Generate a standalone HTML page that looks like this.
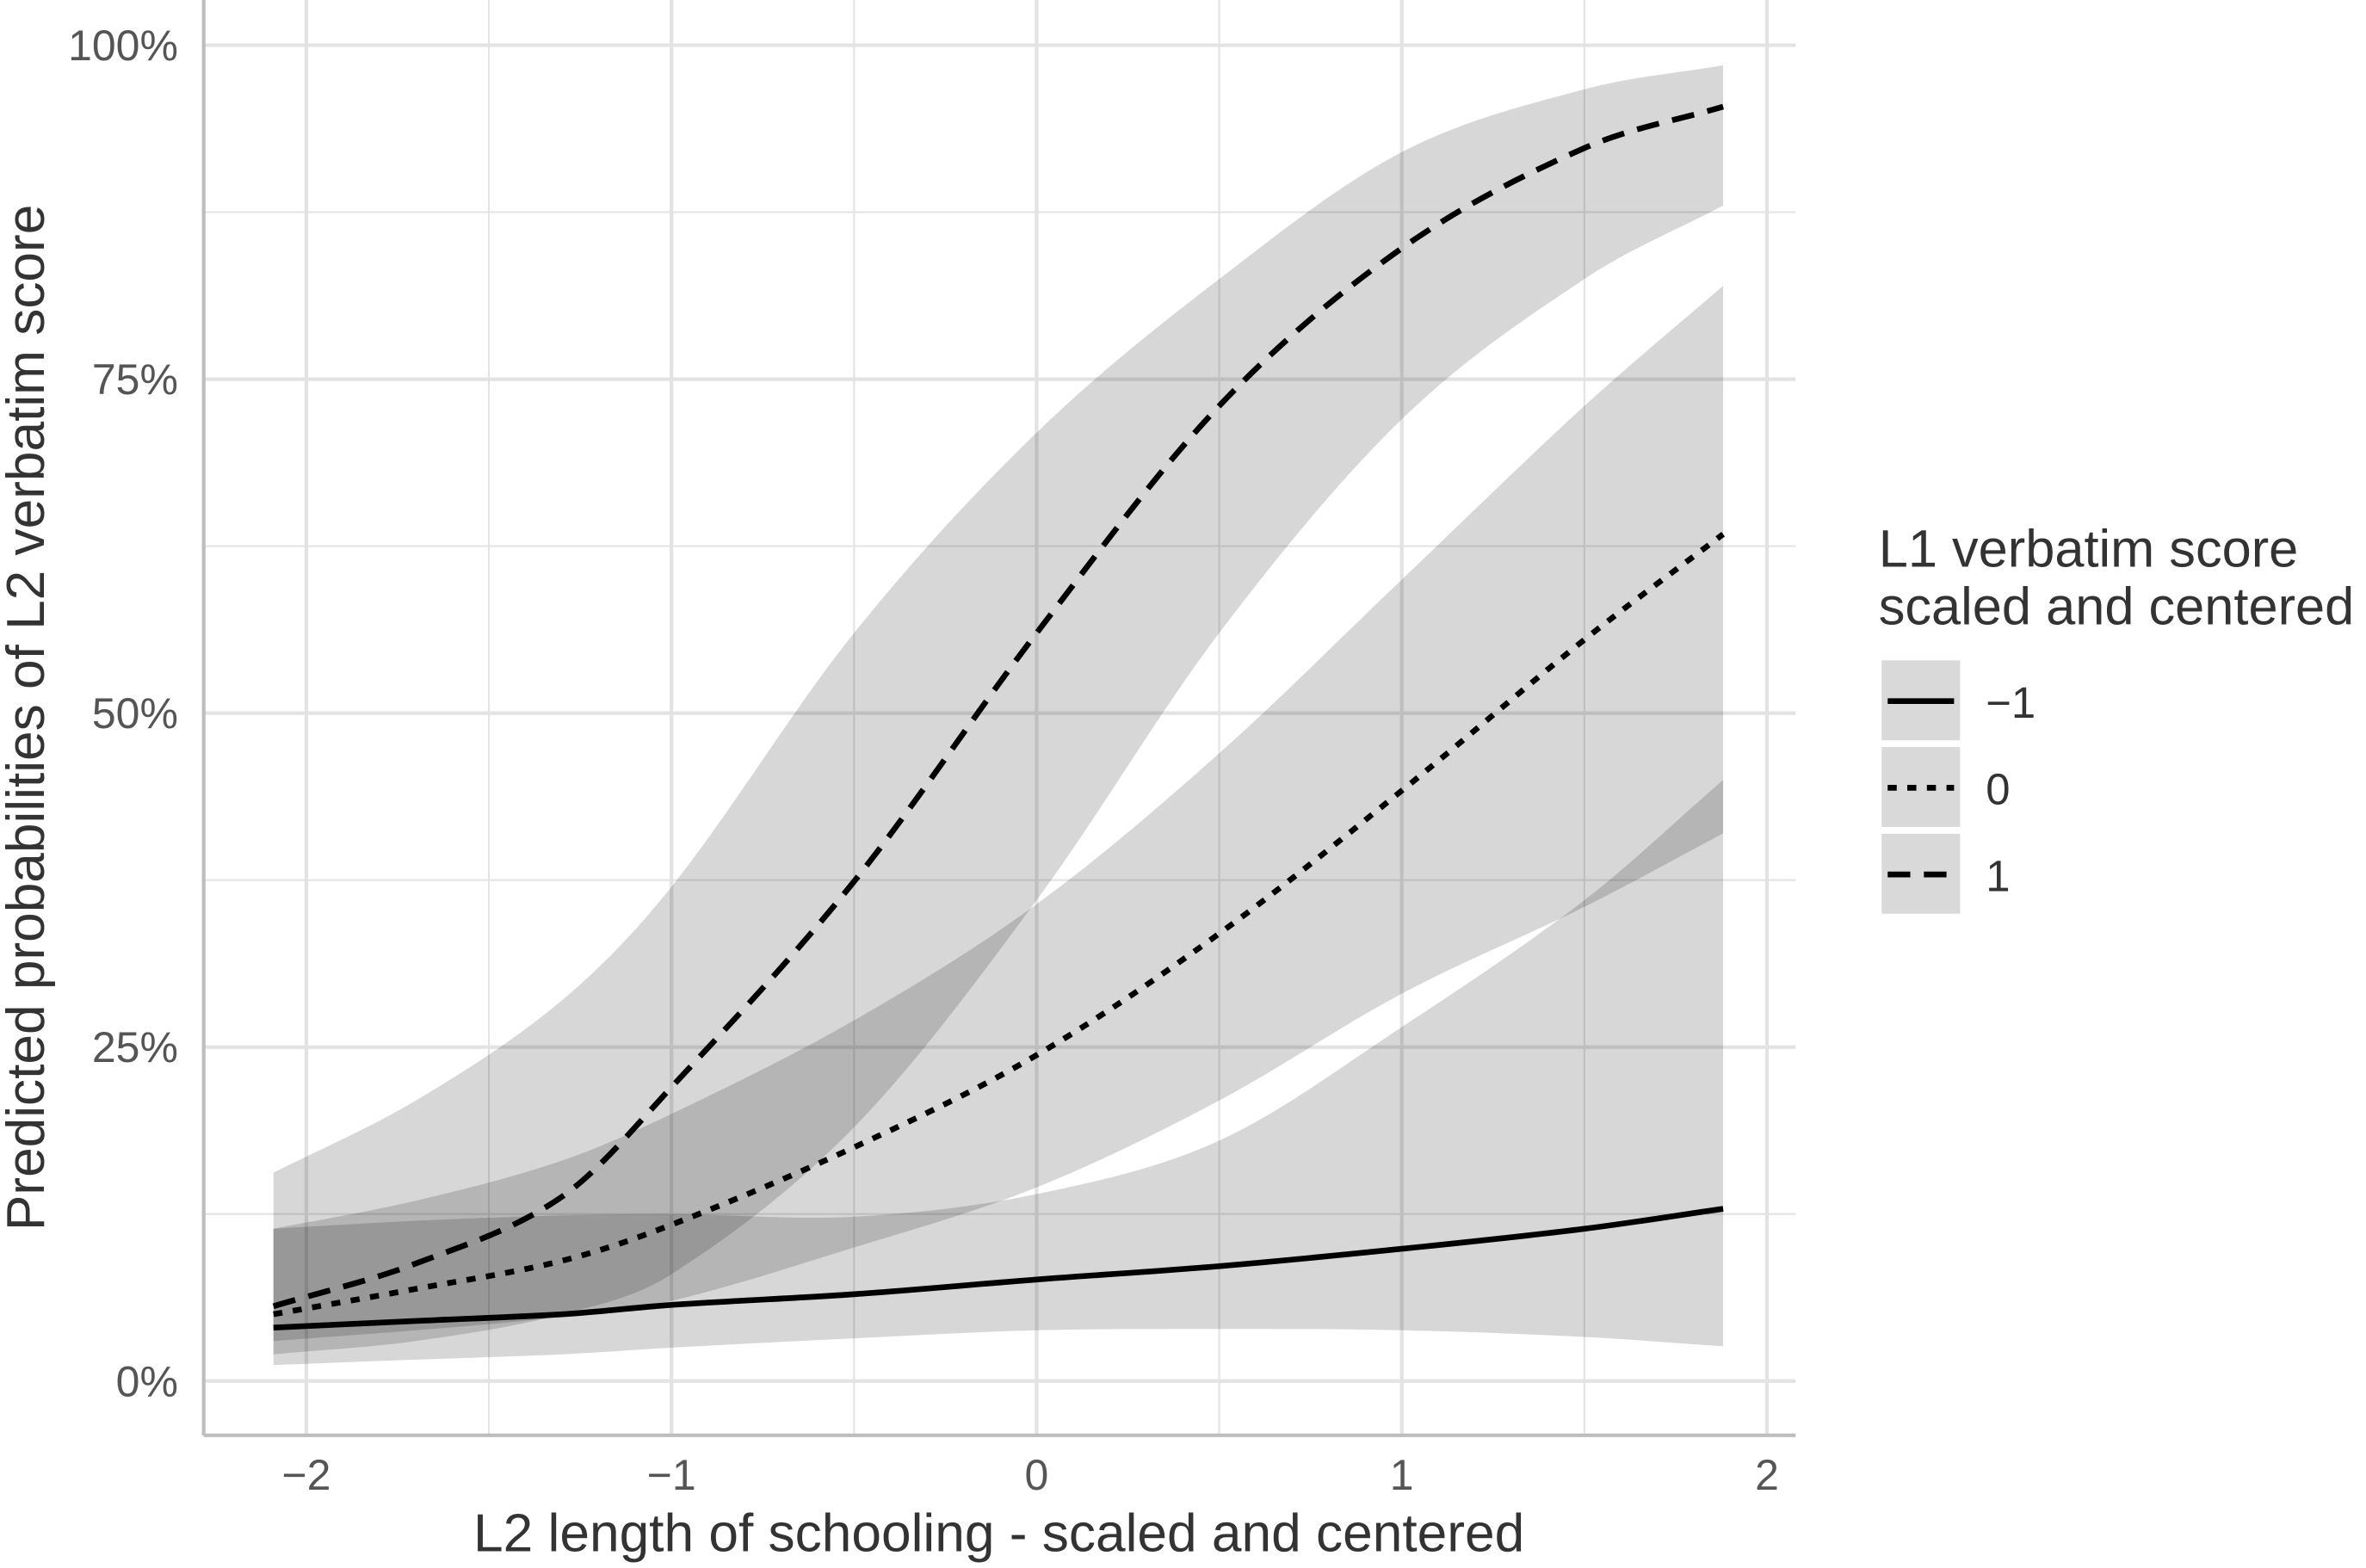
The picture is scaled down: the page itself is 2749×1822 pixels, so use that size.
<!DOCTYPE html>
<html><head><meta charset="utf-8"><style>
html,body{margin:0;padding:0;background:#fff;}
svg{display:block;font-family:"Liberation Sans",sans-serif;}
</style></head><body>
<svg id="chart" width="2749" height="1822" viewBox="0 0 1568 1040" preserveAspectRatio="none" xmlns="http://www.w3.org/2000/svg">
<g id="grid"></g>
<g id="ribbons"></g>
<g id="lines"></g>
<g id="axes"></g>
<text x="662" y="1029" font-size="35.5" fill="#333" text-anchor="middle">L2 length of schooling - scaled and centered</text>
<text transform="translate(29,476) rotate(-90)" font-size="35.5" fill="#333" text-anchor="middle">Predicted probabilities of L2 verbatim score</text>
<g>
<text x="1245" y="376" font-size="35" fill="#333">L1 verbatim score</text>
<text x="1245" y="414" font-size="35" fill="#333">scaled and centered</text>
<g id="legendKeys"></g>
</g>
</svg>
<script>
const xs = [-2.09, -1.7, -1.3, -1, -0.5, 0, 0.5, 1, 1.5, 1.88];
const fitM1 = [4.0, 4.5, 5.0, 5.7, 6.5, 7.6, 8.6, 9.9, 11.4, 12.9];
const lowM1 = [1.2, 1.6, 2.0, 2.5, 3.2, 3.8, 3.9, 3.8, 3.3, 2.6];
const upM1 = [11.4, 12.0, 12.4, 12.5, 12.3, 14.0, 18.0, 26.5, 36, 45];
const fit0 = [5.0, 6.9, 9.0, 11.7, 17.5, 24.4, 33.5, 44.2, 55.5, 63.4];
const low0 = [3.0, 3.8, 4.8, 6.0, 10.0, 14.5, 21, 29, 35.5, 41];
const up0 = [11.4, 13.5, 16.5, 20, 27, 35.7, 47, 60, 73, 82];
const fit1 = [5.6, 8.8, 13.8, 22.0, 37.4, 56, 73, 84.8, 92.3, 95.4];
const low1 = [2.0, 3.0, 5.0, 8.0, 19, 36, 56, 72, 82.5, 88];
const up1 = [15.6, 21.0, 28.5, 37, 56, 71, 82.5, 92, 96.7, 98.5];
const xTicks = [-2, -1, 0, 1, 2];
const xTickLabels = ["\u22122", "\u22121", "0", "1", "2"];
const yTicks = [0, 25, 50, 75, 100];
const yTickLabels = ["0%", "25%", "50%", "75%", "100%"];
const legendLabels = ["\u22121", "0", "1"];

const X = v => 687 + 242 * v;
const Y = p => 916 - 8.86 * p;
const NS = "http://www.w3.org/2000/svg";
function mk(tag, attrs, parent){const e=document.createElementNS(NS,tag);for(const k in attrs)e.setAttribute(k,attrs[k]);parent.appendChild(e);return e;}
function smooth(pts, start){
  let d = start ? 'M'+pts[0][0]+','+pts[0][1] : 'L'+pts[0][0]+','+pts[0][1];
  for(let i=0;i<pts.length-1;i++){
    const p0=pts[Math.max(0,i-1)],p1=pts[i],p2=pts[i+1],p3=pts[Math.min(pts.length-1,i+2)];
    const h=p2[0]-p1[0];
    const s1=(p2[1]-p0[1])/((p2[0]-p0[0])||1), s2=(p3[1]-p1[1])/((p3[0]-p1[0])||1);
    const c1=[p1[0]+h/3,p1[1]+s1*h/3];
    const c2=[p2[0]-h/3,p2[1]-s2*h/3];
    d+='C'+c1[0]+','+c1[1]+' '+c2[0]+','+c2[1]+' '+p2[0]+','+p2[1];
  }
  return d;
}

const grid = document.getElementById('grid');
const L=135,R=1190,T=0,B=952;
for (let v=-2; v<=2.01; v+=0.5) {
  const major = Math.abs(v - Math.round(v)) < 1e-6;
  const l = mk('line',{x1:X(v),x2:X(v),y1:T,y2:B,stroke:'#e3e3e3','stroke-width':major?2.4:1.2},grid);
  
  
}
for (let p=0; p<=100.1; p+=12.5) {
  const major = (p % 25) === 0;
  const l = mk('line',{x1:L,x2:R,y1:Y(p),y2:Y(p),stroke:'#e3e3e3','stroke-width':major?2.4:1.2},grid);
  
  
}

const rib = document.getElementById('ribbons');
const bands = [[lowM1,upM1,'ribbon-minus1'],[low0,up0,'ribbon-0'],[low1,up1,'ribbon-1']];
bands.forEach(b=>{
  const upPts = xs.map((x,i)=>[X(x),Y(b[1][i])]);
  const loPts = xs.map((x,i)=>[X(x),Y(b[0][i])]).reverse();
  const d = smooth(upPts,true)+smooth(loPts,false)+'Z';
  const p = mk('path',{d:d,fill:'#000','fill-opacity':0.155},rib);
  
  
});

const lines = document.getElementById('lines');
const series = [[fitM1,'none','line-minus1'],[fit0,'6,7','line-0'],[fit1,'15,9','line-1']];
series.forEach(s=>{
  const pts = xs.map((x,i)=>[X(x),Y(s[0][i])]);
  const pl = mk('path',{d:smooth(pts,true),fill:'none',stroke:'#000','stroke-width':3.8,'stroke-dasharray':s[1]},lines);
  
  
});

const axes = document.getElementById('axes');
mk('line',{x1:L,x2:L,y1:0,y2:B,stroke:'#bdbdbd','stroke-width':2.4},axes);
mk('line',{x1:L,x2:R,y1:B,y2:B,stroke:'#bdbdbd','stroke-width':2.4},axes);
xTicks.forEach((v,i)=>{
  const t = mk('text',{x:X(v),y:988,'font-size':28.5,fill:'#555','text-anchor':'middle'},axes);
  t.textContent = xTickLabels[i];
  
  
});
yTicks.forEach((p,i)=>{
  const t = mk('text',{x:118,y:Y(p)+10,'font-size':28.5,fill:'#555','text-anchor':'end'},axes);
  t.textContent = yTickLabels[i];
  
  
});

const lk = document.getElementById('legendKeys');
const dashes = ['none','6,7','15,9'];
legendLabels.forEach((lab,i)=>{
  const y0 = 438 + i*57.5;
  const r = mk('rect',{x:1247,y:y0,width:52,height:53,fill:'#d9d9d9'},lk);
  
  
  const l = mk('line',{x1:1251,x2:1295,y1:y0+27,y2:y0+27,stroke:'#000','stroke-width':3.8,'stroke-dasharray':dashes[i]},lk);
  
  
  const t = mk('text',{x:1316,y:y0+38,'font-size':29,fill:'#333'},lk);
  t.textContent = lab;
  
  
});
</script>
</body></html>
